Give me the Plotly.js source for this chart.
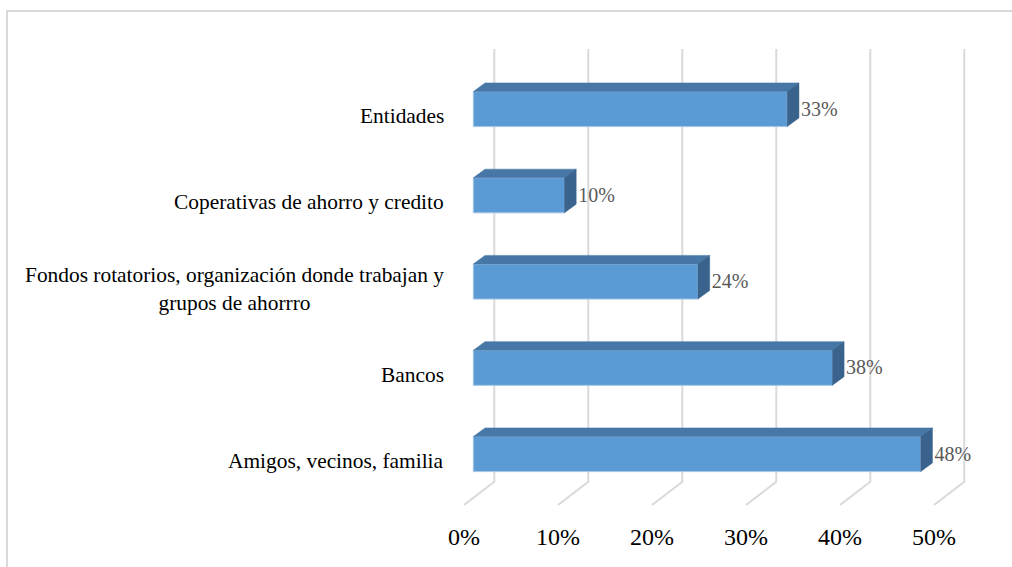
<!DOCTYPE html>
<html>
<head>
<meta charset="utf-8">
<script src="https://cdn.plot.ly/plotly-3.0.1.min.js"></script>
<style>
  html, body { margin: 0; padding: 0; background: #ffffff; }
  #frame { position: absolute; left: 6px; top: 10px; width: 1100px; height: 700px;
           border-left: 2px solid #d9d9d9; border-top: 2px solid #d9d9d9; }
  #chart { position: absolute; left: 0; top: 0; width: 1012px; height: 567px; }
</style>
</head>
<body>
<div id="frame"></div>
<div id="chart"></div>
<script>
// ---- data ----
const categories = [
  "Amigos, vecinos, familia",
  "Bancos",
  "Fondos rotatorios, organización donde trabajan y<br>grupos de ahorrro",
  "Coperativas de ahorro y credito",
  "Entidades"
];
const values = [47.6, 38.2, 23.9, 9.7, 33.4];   // percent
const tickVals = [0, 10, 20, 30, 40, 50];
const tickLabels = ["0%", "10%", "20%", "30%", "40%", "50%"];

// ---- layout calibration (pixels) ----
const FONT = '"Liberation Serif", "Times New Roman", "DejaVu Serif", serif';
const W = 1012, H = 567;
const L = 450, R = 1000, T = 30, B = 520;
const PX_X = 9.4;    // px per 1%
const X0 = 464;      // px of 0% at floor front
const PX_Y = 86.25;  // px per category step
const Y0 = 461;      // px of category 0 label centre

const xr = [(L - X0) / PX_X, (R - X0) / PX_X];
const yr = [(Y0 - B) / PX_Y, (Y0 - T) / PX_Y];

// 3D geometry (converted to data units)
const floorDx = 30.3 / PX_X, floorDy = 23.3 / PX_Y;
const wallTop = (Y0 - 49) / PX_Y;
const frontBottom = (Y0 - 505) / PX_Y;
const backBottom = frontBottom + floorDy;
const barX0 = 9.3 / PX_X;
const ddx = 11.7 / PX_X, ddy = 8.7 / PX_Y;
const barC = 6.9 / PX_Y, barHalf = 17.5 / PX_Y;

const traces = [];
// gridlines: back wall + floor
const gx = [], gy = [];
tickVals.forEach(t => {
  gx.push(t + floorDx, t + floorDx, t, null);
  gy.push(wallTop, backBottom, frontBottom, null);
});
traces.push({type: 'scatter', mode: 'lines', x: gx, y: gy,
  line: {color: '#d9d9d9', width: 2}, hoverinfo: 'skip', showlegend: false});

// bars
const lx = [], ly = [], lt = [];
values.forEach((v, i) => {
  const yb = i + barC - barHalf, yt = i + barC + barHalf;
  const x1 = barX0 + v;
  traces.push({type: 'scatter', mode: 'lines', fill: 'toself',
    x: [barX0, x1, x1, barX0, barX0], y: [yb, yb, yt, yt, yb],
    fillcolor: '#5b9bd5', line: {color: '#a5c6e8', width: 1}, hoverinfo: 'skip', showlegend: false});
  traces.push({type: 'scatter', mode: 'lines', fill: 'toself',
    x: [barX0, x1, x1 + ddx, barX0 + ddx, barX0], y: [yt, yt, yt + ddy, yt + ddy, yt],
    fillcolor: '#4677a6', line: {color: '#4677a6', width: 0.5}, hoverinfo: 'skip', showlegend: false});
  traces.push({type: 'scatter', mode: 'lines', fill: 'toself',
    x: [x1, x1, x1 + ddx, x1 + ddx, x1], y: [yb, yt, yt + ddy, yb + ddy, yb],
    fillcolor: '#39638d', line: {color: '#39638d', width: 0.5}, hoverinfo: 'skip', showlegend: false});
  lx.push(x1 + ddx + 2 / PX_X);
  ly.push(i + barC - 1.5 / PX_Y);
  lt.push(Math.round(v) + '%');
});
traces.push({type: 'scatter', mode: 'text', x: lx, y: ly, text: lt,
  textposition: 'middle right',
  textfont: {family: FONT, size: 20, color: '#595959'},
  hoverinfo: 'skip', showlegend: false});

const annotations = categories.map((c, i) => ({
  xref: 'paper', x: 0, xanchor: 'right', xshift: -4,
  yref: 'y', y: i, yanchor: 'middle',
  text: c, showarrow: false, align: 'center',
  font: {family: FONT, size: 21.4, color: '#000000'}
}));

const layout = {
  width: W, height: H,
  margin: {l: L, r: W - R, t: T, b: H - B, pad: 0},
  paper_bgcolor: 'rgba(0,0,0,0)', plot_bgcolor: 'rgba(0,0,0,0)',
  showlegend: false,
  font: {family: FONT},
  xaxis: {range: xr, tickvals: tickVals, ticktext: tickLabels, showgrid: false,
    zeroline: false, showline: false, ticks: '',
    tickfont: {family: FONT, size: 24, color: '#000000'},
    fixedrange: true},
  yaxis: {range: yr, showgrid: false, zeroline: false, showline: false,
    showticklabels: false, ticks: '', fixedrange: true},
  annotations: annotations
};

Plotly.newPlot('chart', traces, layout, {displayModeBar: false, staticPlot: true});
</script>
</body>
</html>
